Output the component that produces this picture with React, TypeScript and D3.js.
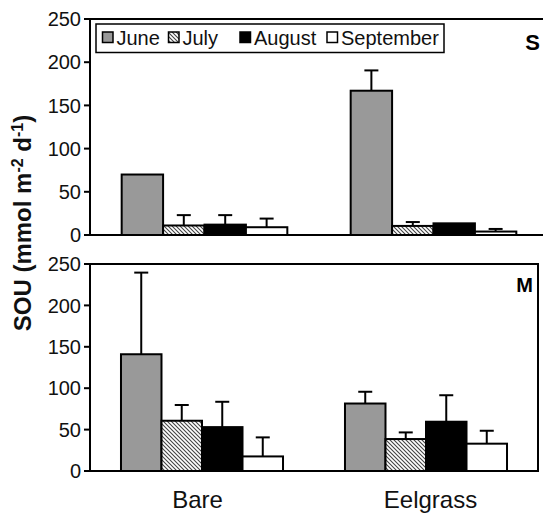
import React from "react";
import * as d3 from "d3";

const categories = ["Bare", "Eelgrass"];
const months = ["June", "July", "August", "September"];
const tickValues = [0, 50, 100, 150, 200, 250];

// Panel S (means and upper error)
const sBareMean = [70, 11, 12, 9];
const sBareErr = [0, 12, 11, 10];
const sEelMean = [167, 10.5, 13.5, 4];
const sEelErr = [23.5, 4.5, 0, 3];

// Panel M
const mBareMean = [141, 60.7, 53, 17.6];
const mBareErr = [98.6, 19, 30.6, 23];
const mEelMean = [81.5, 38.6, 59.5, 33];
const mEelErr = [14.2, 8, 32, 15.6];

const fills: Record<string, string> = {
  June: "#999999",
  July: "url(#hatch)",
  August: "#000000",
  September: "#ffffff",
};

const FONT = "'Liberation Sans', Arial, Helvetica, sans-serif";

type PanelProps = {
  top: number;
  bottom: number;
  left: number;
  right: number;
  means: number[][];
  errs: number[][];
  tag: string;
  tagX: number;
  tagY: number;
  tagSize: number;
};

function Panel({ top, bottom, left, right, means, errs, tag, tagX, tagY, tagSize }: PanelProps) {
  const y = d3.scaleLinear().domain([0, 250]).range([bottom, top]);
  const x0 = d3.scaleBand<string>().domain(categories).range([left, right]).paddingInner(0).paddingOuter(0);
  const x1 = d3.scaleBand<string>().domain(months).range([0, x0.bandwidth()]).paddingInner(0).paddingOuter(0.765);
  return (
    <g>
      {categories.map((c, ci) => (
        <g key={c} transform={`translate(${x0(c)},0)`}>
          {months.map((m, mi) => {
            const v = means[ci][mi];
            const e = errs[ci][mi];
            const bx = x1(m)!;
            const bw = x1.bandwidth();
            const cx = bx + bw / 2;
            return (
              <g key={m}>
                {e > 0 && (
                  <g stroke="#000" strokeWidth={2}>
                    <line x1={cx} x2={cx} y1={y(v)} y2={y(v + e)} />
                    <line x1={cx - 7} x2={cx + 7} y1={y(v + e)} y2={y(v + e)} />
                  </g>
                )}
                <rect x={bx} y={y(v)} width={bw} height={y(0) - y(v)} fill={fills[m]} stroke="#000" strokeWidth={2} />
              </g>
            );
          })}
        </g>
      ))}
      <rect x={left} y={top} width={right - left} height={bottom - top} fill="none" stroke="#000" strokeWidth={2} />
      {tickValues.map((t) => (
        <g key={t}>
          <line x1={left - 6} x2={left} y1={y(t)} y2={y(t)} stroke="#000" strokeWidth={2} />
          <text x={left - 9} y={y(t)} dy="0.36em" textAnchor="end" fontSize={20} fontFamily={FONT} fill="#111">
            {t}
          </text>
        </g>
      ))}
      <text x={tagX} y={tagY} textAnchor="end" fontSize={tagSize} fontWeight="bold" fontFamily={FONT}>
        {tag}
      </text>
    </g>
  );
}

export default function App() {
  const legendX = [102.5, 168.5, 240, 327];
  const catLabel = d3.scaleBand<string>().domain(categories).range([81, 547]);
  return (
    <svg width={543} height={515} style={{ position: "absolute", left: 0, top: 0, background: "#fff" }}>
      <defs>
        <pattern id="hatch" patternUnits="userSpaceOnUse" width={4} height={4}>
          <rect width={4} height={4} fill="#fff" />
          <path d="M-1,-1 L5,5 M3,-1 L5,1 M-1,3 L1,5" stroke="#444" strokeWidth={1.1} />
        </pattern>
      </defs>
      <rect width={543} height={515} fill="#fff" />
      <Panel
        top={19}
        bottom={235}
        left={90}
        right={548}
        means={[sBareMean, sEelMean]}
        errs={[sBareErr, sEelErr]}
        tag="S"
        tagX={540}
        tagY={50}
        tagSize={22}
      />
      <Panel
        top={264}
        bottom={471}
        left={90}
        right={538}
        means={[mBareMean, mEelMean]}
        errs={[mBareErr, mEelErr]}
        tag="M"
        tagX={533}
        tagY={292}
        tagSize={20}
      />
      {/* legend */}
      <rect x={96} y={24} width={348} height={28.5} fill="#fff" stroke="#000" strokeWidth={1.5} />
      {months.map((m, i) => (
        <g key={m}>
          <rect x={legendX[i]} y={32} width={10.5} height={10.5} fill={fills[m]} stroke="#000" strokeWidth={1.5} />
          <text x={legendX[i] + 14} y={44.5} fontSize={20} fontFamily={FONT} fill="#111">
            {m}
          </text>
        </g>
      ))}
      {/* category labels */}
      {categories.map((c) => (
        <text key={c} x={catLabel(c)! + catLabel.bandwidth() / 2} y={508} textAnchor="middle" fontSize={24} fontFamily={FONT} fill="#111">
          {c}
        </text>
      ))}
      {/* y label */}
      <text transform="translate(31,223) rotate(-90)" textAnchor="middle" fontSize={24} fontWeight="bold" fontFamily={FONT} fill="#111">
        SOU (mmol m<tspan dy={-8} fontSize={16}>-2</tspan>
        <tspan dy={8}> d</tspan>
        <tspan dy={-8} fontSize={16}>-1</tspan>
        <tspan dy={8}>)</tspan>
      </text>
    </svg>
  );
}
